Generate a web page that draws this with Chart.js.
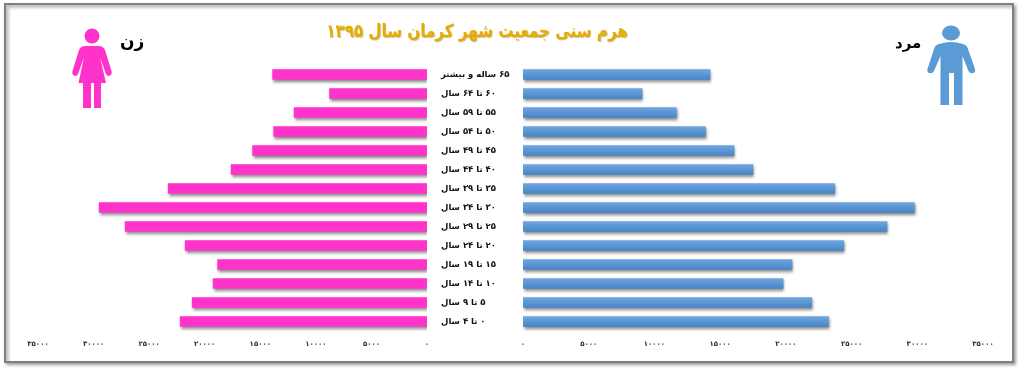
<!DOCTYPE html>
<html lang="fa">
<head>
<meta charset="utf-8">
<title>هرم سنی</title>
<script src="https://cdn.jsdelivr.net/npm/chart.js@4"></script>
<style>
    html, body { margin: 0; padding: 0; background: #fff; overflow: hidden; }
    #page { position: relative; width: 1024px; height: 371px; font-family: "DejaVu Sans", sans-serif; }
    #frame {
        position: absolute; left: 4px; top: 3px; width: 1006px; height: 356px;
        border: 2px solid #7f7f7f; background: #fff;
        box-shadow: 2px 2px 3px #9a9a9a, inset 3px 3px 3px #c4c4c4;
    }
    canvas { position: absolute; top: 0; }
    #female-chart { left: 0; }
    #male-chart { left: 500px; }
    .text { position: absolute; direction: rtl; white-space: nowrap; font-weight: bold; }
    #title { left: 287px; width: 380px; top: 19px; text-align: center; font-size: 18px; line-height: 24px; color: #e6ac00; text-shadow: 1px 1px 1px #c9c0a0; transform: scaleX(0.84); }
    #female-label { left: 120px; top: 29px; font-size: 17px; line-height: 24px; color: #000; }
    #male-label { left: 895px; top: 31px; font-size: 15px; line-height: 24px; color: #000; }
    svg { position: absolute; left: 0; top: 0; }
</style>
</head>
<body>
<div id="page">
    <div id="frame"></div>
    <canvas id="female-chart" width="523" height="371" dir="rtl"></canvas>
    <canvas id="male-chart" width="524" height="371" dir="rtl"></canvas>
    <div class="text" id="title">هرم سنی جمعیت شهر کرمان سال ۱۳۹۵</div>
    <div class="text" id="female-label">زن</div>
    <div class="text" id="male-label">مرد</div>
    <svg width="1024" height="371">
        <g fill="#ff33cc">
            <circle cx="92" cy="36" r="7.5"/>
            <path d="M85 46 L99 46 Q103 46 105 50 L111.5 71 Q112.5 75 109 76 Q106.5 76.5 105.5 73 L100 57 L106 83 L101 83 L101 108 L94 108 L94 83 L91 83 L91 108 L83 108 L83 83 L78.5 83 L84 57 L78.5 73 Q77.5 76.5 75 76 Q71.5 75 72.5 71 L79 50 Q81 46 85 46 Z"/>
        </g>
        <g fill="#5b9bd5">
            <ellipse cx="951" cy="33" rx="9" ry="7.5"/>
            <path d="M939 44 Q951 40 963 44 Q967 45 968 49 L975 69 Q976 72 973 73 Q970 74 968.5 71 L962.5 56 L962.5 105 L954 105 L954 73 L949 73 L949 105 L940.5 105 L940.5 56 L934 71 Q932.5 74 929.5 73 Q926.5 72 927.5 69 L934 49 Q935 45 939 44 Z"/>
        </g>
    </svg>
</div>
<script>
const categories = ['۶۵ ساله و بیشتر', '۶۰ تا ۶۴ سال', '۵۵ تا ۵۹ سال', '۵۰ تا ۵۴ سال', '۴۵ تا ۴۹ سال', '۴۰ تا ۴۴ سال', '۳۵ تا ۳۹ سال', '۳۰ تا ۳۴ سال', '۲۵ تا ۲۹ سال', '۲۰ تا ۲۴ سال', '۱۵ تا ۱۹ سال', '۱۰ تا ۱۴ سال', '۵ تا ۹ سال', '۰ تا ۴ سال'];
const femaleValues = [13890, 8770, 11960, 13800, 15690, 17630, 23290, 29500, 27160, 21760, 18840, 19250, 21130, 22210];
const maleValues = [14230, 9060, 11670, 13880, 16060, 17500, 23720, 29780, 27700, 24410, 20470, 19790, 21970, 23240];
const xTickLabels = ['۰', '۵۰۰۰', '۱۰۰۰۰', '۱۵۰۰۰', '۲۰۰۰۰', '۲۵۰۰۰', '۳۰۰۰۰', '۳۵۰۰۰'];

const AXIS_FONT = '"DejaVu Sans", sans-serif';

// soft shadow under the bars, like the office chart this came from
const barShadow = {
    id: 'barShadow',
    beforeDatasetsDraw(chart) {
        const c = chart.ctx;
        c.save();
        c.shadowColor = 'rgba(0, 0, 0, 0.5)';
        c.shadowBlur = 3;
        c.shadowOffsetX = 1;
        c.shadowOffsetY = 2;
    },
    afterDatasetsDraw(chart) {
        chart.ctx.restore();
    }
};

function maleBarColor(ctx) {
    const yScale = ctx.chart.scales.y;
    if (ctx.dataIndex === undefined || !yScale) return '#5b9bd5';
    const mid = yScale.getPixelForValue(ctx.dataIndex);
    if (!Number.isFinite(mid)) return '#5b9bd5';
    const g = ctx.chart.ctx.createLinearGradient(0, mid - 5, 0, mid + 5);
    g.addColorStop(0, '#6ea6df');
    g.addColorStop(1, '#4686c8');
    return g;
}

function baseOptions(reverse, padding, showLabels) {
    return {
        indexAxis: 'y',
        responsive: false,
        animation: false,
        layout: { padding },
        plugins: { legend: { display: false }, tooltip: { enabled: false } },
        scales: {
            x: {
                reverse,
                min: 0,
                max: 35000,
                grid: { display: false, drawTicks: false },
                border: { display: false },
                afterFit(scale) { scale.height = 40; },
                ticks: {
                    stepSize: 5000,
                    autoSkip: false,
                    maxRotation: 0,
                    padding: 9,
                    color: '#333',
                    font: { family: AXIS_FONT, size: 7, weight: 'bold' },
                    callback: (value) => xTickLabels[value / 5000]
                }
            },
            y: {
                position: 'right',
                display: showLabels,
                grid: { display: false, drawTicks: false },
                border: { display: false },
                afterFit(scale) { scale.width = showLabels ? 96 : 0; },
                ticks: {
                    crossAlign: 'near',
                    padding: 14,
                    autoSkip: false,
                    color: '#111',
                    font: { family: AXIS_FONT, size: 8.5, weight: 'bold' }
                }
            }
        }
    };
}

new Chart(document.getElementById('female-chart'), {
    type: 'bar',
    data: {
        labels: categories,
        datasets: [{ label: 'زن', data: femaleValues, backgroundColor: '#ff33cc', barThickness: 10 }]
    },
    options: baseOptions(true, { left: 38, top: 65 }, true),
    plugins: [barShadow]
});

new Chart(document.getElementById('male-chart'), {
    type: 'bar',
    data: {
        labels: categories,
        datasets: [{ label: 'مرد', data: maleValues, backgroundColor: maleBarColor, barThickness: 10 }]
    },
    options: baseOptions(false, { left: 23, right: 41, top: 65 }, false),
    plugins: [barShadow]
});
</script>
</body>
</html>
